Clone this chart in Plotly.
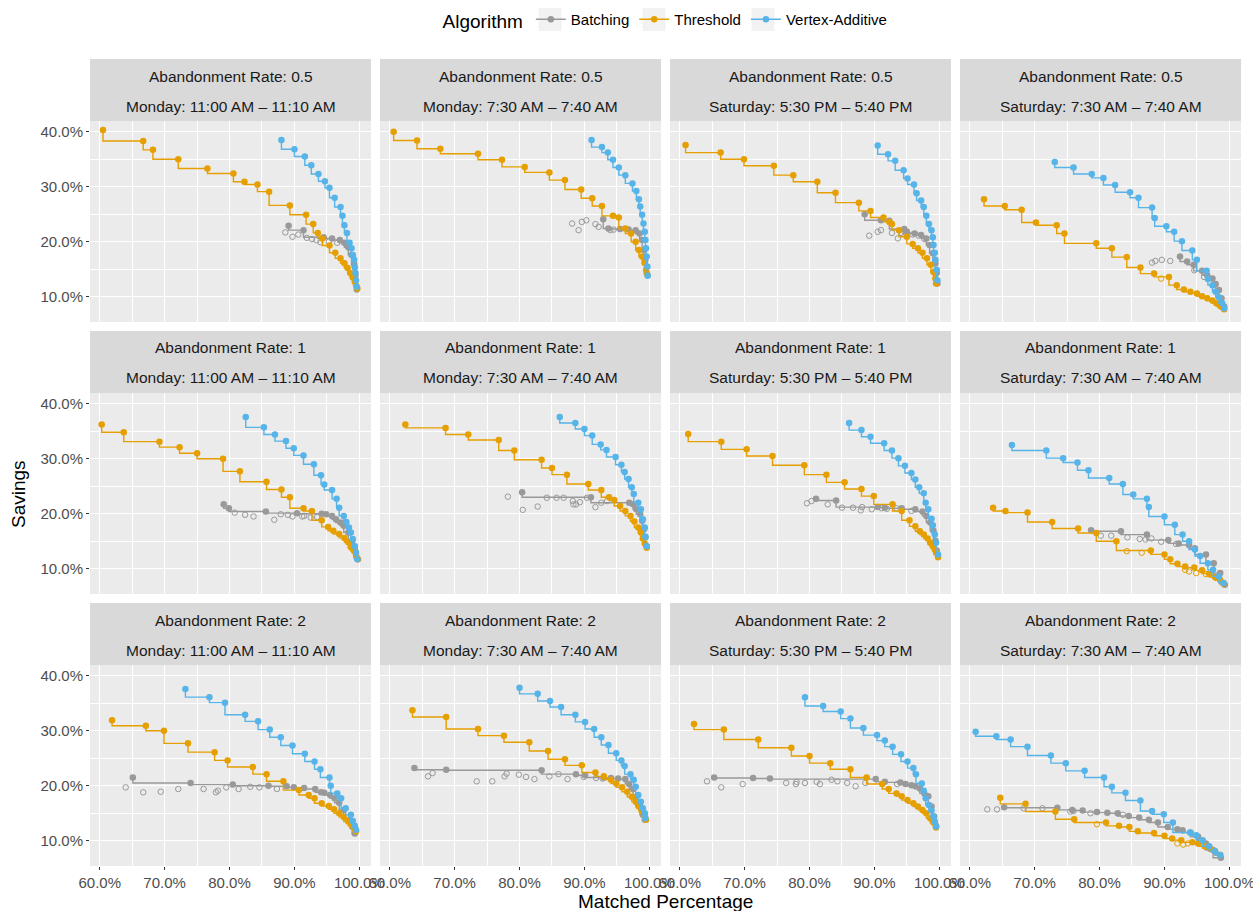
import plotly.graph_objects as go

# ---------------- DATA (Matched Percentage %, Savings %) ----------------
RATES = ["0.5", "1", "2"]
SLOTS = ["Monday: 11:00 AM – 11:10 AM", "Monday: 7:30 AM – 7:40 AM",
         "Saturday: 5:30 PM – 5:40 PM", "Saturday: 7:30 AM – 7:40 AM"]
ALGORITHMS = ["Batching", "Threshold", "Vertex-Additive"]
X_TICKS = [60, 70, 80, 90, 100]
X_TICK_LABELS = ["60.0%", "70.0%", "80.0%", "90.0%", "100.0%"]
Y_TICKS = [10, 20, 30, 40]
Y_TICK_LABELS = ["10.0%", "20.0%", "30.0%", "40.0%"]

# ---- Abandonment rate 0.5 ----
R05_MON11_THR = [(60.5,40.3),(66.7,38.3),(68.2,36.7),(72.1,35.0),(76.6,33.3),(80.6,32.4),(82.3,30.9),(84.3,30.4),(86.1,29.1),(89.3,26.6),(91.8,24.9),(92.9,23.2),(93.6,21.6),(94.3,20.6),(95.4,19.3),(96.3,18.0),(97.1,17.0),(97.7,16.1),(98.2,15.2),(98.6,14.3),(99.0,13.5),(99.3,12.7),(99.5,12.1),(99.7,11.5)]
R05_MON11_VA = [(88.0,38.5),(90.0,36.8),(91.6,35.5),(92.6,33.9),(93.7,32.3),(94.7,31.0),(95.4,29.8),(96.2,28.0),(97.1,26.3),(97.4,24.7),(97.7,23.0),(98.1,21.6),(98.5,19.8),(98.8,18.8),(99.0,17.6),(99.2,16.7),(99.3,15.3),(99.4,14.3),(99.5,13.0),(99.6,11.8)]
R05_MON11_BAT = [(89.1,22.9),(91.4,22.1),(94.5,20.8),(95.8,20.6),(97.0,20.3),(97.7,19.8),(98.3,19.0),(98.8,17.6),(99.2,15.9),(99.4,13.9),(99.6,11.3)]
R05_MON11_BAT_DOM = [(88.6,21.7),(89.7,20.9),(90.6,21.3),(91.9,20.7),(92.7,20.5),(93.4,20.3),(94.0,19.9),(95.3,20.0),(96.6,19.8)]

R05_MON730_THR = [(60.6,40.0),(64.2,38.4),(67.8,36.9),(73.6,36.0),(77.3,34.9),(80.8,33.6),(84.6,32.6),(87.0,31.2),(89.5,29.5),(91.2,27.9),(92.7,26.5),(94.4,24.7),(95.3,24.4),(96.3,22.4),(97.2,21.5),(97.9,20.0),(98.4,18.5),(98.9,17.3),(99.3,16.1),(99.5,14.9),(99.7,14.0)]
R05_MON730_VA = [(91.1,38.5),(92.7,37.2),(93.6,36.2),(94.4,34.9),(95.3,33.5),(96.3,32.1),(97.4,30.6),(98.0,29.2),(98.4,27.7),(98.6,26.4),(98.9,24.9),(99.1,23.3),(99.3,21.8),(99.4,20.3),(99.5,18.8),(99.6,17.3),(99.7,15.5),(99.75,13.8)]
R05_MON730_BAT = [(92.9,24.1),(93.7,22.4),(95.5,22.3),(96.8,22.2),(97.9,22.1),(98.5,21.5),(98.9,20.3),(99.2,18.5),(99.4,16.7),(99.6,14.3)]
R05_MON730_BAT_DOM = [(88.1,23.3),(89.1,22.1),(89.6,23.6),(90.3,23.9),(91.7,23.2),(92.2,22.7),(94.0,22.1),(94.5,22.2)]

R05_SAT530_THR = [(60.9,37.6),(66.3,36.2),(69.9,35.0),(74.5,33.8),(77.5,32.1),(81.2,30.9),(84.0,28.9),(87.6,27.1),(89.4,25.6),(91.4,24.4),(92.3,23.6),(92.7,23.2),(93.8,22.1),(95.0,20.9),(95.9,19.6),(96.7,18.8),(97.4,18.0),(98.1,17.0),(98.7,15.8),(99.1,14.5),(99.4,13.3),(99.5,12.4)]
R05_SAT530_VA = [(90.5,37.5),(92.1,35.9),(93.2,34.7),(94.5,33.0),(95.1,31.5),(96.1,30.4),(96.5,28.8),(97.2,27.5),(97.6,26.3),(98.0,24.7),(98.4,23.2),(98.8,22.1),(99.0,20.8),(99.1,19.4),(99.3,18.0),(99.4,16.7),(99.6,14.9),(99.7,13.0)]
R05_SAT530_BAT = [(88.5,25.0),(91.0,23.9),(92.3,23.8),(94.6,22.3),(95.0,21.8),(96.2,21.5),(97.2,21.2),(98.0,20.6),(98.5,19.4),(99.0,17.9),(99.4,16.1),(99.6,14.3),(99.7,12.4)]
R05_SAT530_BAT_DOM = [(89.2,21.1),(90.5,21.8),(91.0,22.1),(92.7,21.6),(93.6,20.6),(94.1,21.6),(94.7,21.7),(95.9,21.3),(96.8,21.1),(97.7,20.5)]

R05_SAT730_THR = [(62.2,27.7),(65.4,26.5),(68.0,25.8),(70.2,23.5),(73.4,23.0),(74.6,21.5),(79.5,19.7),(81.9,18.8),(84.2,17.2),(86.3,15.3),(88.4,14.2),(90.7,13.6),(91.9,12.1),(93.0,11.3),(94.0,10.9),(95.0,10.6),(95.8,10.1),(96.6,9.7),(97.4,9.3),(98.0,8.8),(98.6,8.3),(99.2,7.7)]
R05_SAT730_THR_DOM = [(89.5,13.3)]
R05_SAT730_VA = [(73.1,34.5),(76.0,33.5),(78.8,32.3),(80.6,31.6),(82.4,30.3),(84.7,29.0),(86.0,28.0),(88.1,26.2),(88.5,24.3),(90.3,22.8),(91.5,21.8),(92.7,20.1),(94.3,18.4),(95.0,16.7),(96.5,14.7),(96.7,13.2),(97.4,12.1),(97.9,10.9),(98.4,9.9),(98.9,8.8),(99.2,7.9)]
R05_SAT730_BAT = [(92.4,17.3),(93.5,16.4),(94.5,15.8),(95.8,14.7),(96.6,13.9),(97.4,13.3),(97.9,12.3),(98.4,11.2),(98.8,9.7),(99.2,8.2)]
R05_SAT730_BAT_DOM = [(88.1,16.2),(88.6,16.5),(89.6,16.7),(90.9,16.5),(94.6,14.8),(96.1,13.6)]

# ---- Abandonment rate 1 ----
R1_MON11_THR = [(60.3,36.2),(63.7,34.8),(69.2,33.1),(72.3,32.1),(75.0,31.0),(79.0,30.0),(81.6,27.7),(85.7,25.8),(88.0,24.4),(89.3,23.0),(91.4,21.0),(92.7,20.5),(94.2,18.8),(95.2,17.6),(96.0,16.9),(96.9,16.3),(97.7,15.6),(98.3,14.8),(98.7,13.9),(99.2,13.2),(99.5,12.4),(99.8,11.7)]
R1_MON11_VA = [(82.5,37.6),(85.3,35.7),(87.0,34.4),(88.7,33.2),(89.9,31.9),(91.4,30.6),(93.0,29.0),(94.1,27.0),(94.6,25.3),(95.8,24.3),(96.5,22.7),(96.9,21.1),(97.6,19.6),(98.0,18.5),(98.4,17.5),(98.7,16.6),(99.0,15.4),(99.3,14.1),(99.5,12.9),(99.7,11.7)]
R1_MON11_BAT = [(79.1,21.7),(79.9,21.0),(85.6,20.4),(90.4,20.1),(94.2,20.0),(94.9,19.9),(95.8,19.6),(96.4,19.0),(97.1,18.4),(97.6,17.8),(98.3,16.6),(98.9,15.0),(99.3,13.5),(99.6,12.0)]
R1_MON11_BAT_DOM = [(80.8,20.2),(82.4,19.8),(83.7,19.5),(86.9,18.9),(87.9,19.9),(89.0,19.8),(89.7,19.5),(91.2,19.5),(91.5,19.6),(92.5,19.3),(93.5,19.4)]

R1_MON730_THR = [(62.4,36.2),(68.6,35.6),(72.1,34.4),(76.8,33.4),(79.2,31.5),(83.4,29.8),(85.0,28.3),(87.3,27.1),(90.6,25.4),(92.6,24.3),(93.8,23.0),(94.6,22.5),(95.5,21.4),(96.3,20.5),(97.1,19.6),(97.7,18.6),(98.3,17.5),(98.7,16.6),(99.0,15.5),(99.3,14.6),(99.6,13.8)]
R1_MON730_VA = [(86.2,37.6),(88.6,36.5),(90.0,35.4),(91.2,34.2),(92.5,32.6),(93.4,31.6),(94.8,30.3),(95.7,28.9),(96.2,27.6),(96.8,26.3),(97.3,24.8),(97.6,23.6),(98.3,22.0),(98.7,20.8),(99.0,19.0),(99.3,17.5),(99.4,15.8),(99.6,14.1)]
R1_MON730_BAT = [(80.4,23.9),(91.0,23.0),(96.9,22.0),(97.5,21.7),(98.0,20.8),(98.6,19.9),(98.9,18.7),(99.2,17.2),(99.4,15.7),(99.6,14.1)]
R1_MON730_BAT_DOM = [(78.2,23.1),(80.5,20.7),(82.8,21.3),(84.2,22.9),(85.7,22.9),(86.8,22.9),(88.2,22.3),(88.3,21.7),(88.7,21.7),(89.3,22.1),(90.4,22.9),(91.7,21.2),(92.6,22.0),(93.5,22.3)]

R1_SAT530_THR = [(61.3,34.5),(66.4,33.1),(70.3,31.7),(74.3,30.5),(79.2,28.8),(82.6,27.1),(85.4,25.7),(88.0,24.5),(89.9,23.2),(92.8,21.7),(94.2,20.5),(95.4,18.8),(96.3,17.7),(97.0,16.8),(97.6,16.2),(98.2,15.5),(98.6,14.7),(99.0,14.1),(99.3,13.5),(99.5,12.9),(99.8,12.1)]
R1_SAT530_VA = [(86.1,36.5),(88.0,35.2),(89.4,34.0),(91.5,32.8),(92.7,31.5),(93.7,30.1),(94.7,28.7),(95.7,27.4),(96.3,26.2),(96.9,24.8),(97.6,23.7),(97.9,22.0),(98.3,20.8),(98.8,19.1),(99.0,17.9),(99.3,16.2),(99.5,14.7),(99.8,12.6)]
R1_SAT530_BAT = [(81.0,22.7),(84.1,22.4),(90.5,21.2),(91.6,21.1),(94.2,21.0),(96.3,20.8),(97.4,20.4),(98.0,19.6),(98.6,18.4),(99.1,16.9),(99.4,15.1),(99.6,13.3)]
R1_SAT530_BAT_DOM = [(79.6,21.9),(80.3,22.3),(82.8,21.7),(85.0,21.1),(86.7,21.1),(87.9,20.6),(88.1,21.2),(89.6,20.8),(91.1,21.0),(91.9,20.9),(93.4,21.0),(95.7,20.5)]

R1_SAT730_THR = [(63.6,21.1),(65.5,20.5),(68.9,20.2),(72.7,18.5),(76.7,17.3),(79.5,16.5),(82.6,15.0),(87.9,13.3),(90.0,12.6),(90.9,11.7),(92.0,10.9),(93.2,10.4),(94.6,10.2),(95.8,9.7),(96.9,9.1),(97.8,8.5),(98.6,7.9),(99.1,7.3)]
R1_SAT730_THR_DOM = [(84.2,13.2),(86.5,12.9),(93.2,9.8),(93.8,9.5),(94.9,9.2),(96.4,9.0)]
R1_SAT730_VA = [(66.5,32.5),(71.8,31.5),(74.4,30.1),(76.6,29.3),(78.3,27.9),(81.5,26.5),(83.6,25.4),(85.2,23.5),(87.3,22.7),(87.6,21.2),(90.0,19.5),(91.6,18.0),(92.8,16.2),(93.8,15.0),(94.7,13.5),(95.5,12.3),(96.7,11.0),(97.5,9.8),(98.4,8.6),(99.1,7.4)]
R1_SAT730_BAT = [(78.7,17.0),(83.3,16.8),(87.3,16.2),(90.6,15.2),(92.2,14.6),(93.8,14.3),(94.7,13.7),(96.4,12.6),(97.6,11.0),(98.6,9.2),(99.3,7.1)]
R1_SAT730_BAT_DOM = [(80.2,16.0),(81.8,16.0),(84.3,15.7),(86.2,15.4),(87.1,15.3),(88.0,15.5),(89.5,14.9),(91.8,14.5)]

# ---- Abandonment rate 2 ----
R2_MON11_THR = [(61.9,31.9),(67.1,30.9),(69.9,30.0),(73.6,27.7),(77.7,26.1),(79.7,24.6),(83.6,23.4),(85.7,22.1),(88.3,20.8),(90.7,19.2),(92.2,18.3),(93.1,17.7),(94.2,16.8),(95.3,16.3),(96.1,15.7),(96.9,15.0),(97.6,14.3),(98.3,13.5),(98.9,12.7),(99.3,12.1),(99.5,11.7)]
R2_MON11_VA = [(73.2,37.6),(76.9,36.1),(79.3,35.1),(82.4,32.9),(84.4,31.7),(86.2,30.2),(87.9,28.8),(89.7,27.3),(91.6,25.8),(93.1,24.4),(94.0,23.0),(95.4,21.5),(95.6,20.0),(96.6,18.6),(97.2,17.7),(97.9,15.9),(98.7,14.7),(99.0,13.6),(99.3,12.7),(99.5,12.0)]
R2_MON11_BAT = [(65.1,21.5),(74.0,20.5),(80.5,20.2),(86.0,20.0),(88.8,19.9),(89.9,19.7),(91.5,19.6),(93.2,19.4),(94.1,18.8),(94.6,18.7),(95.5,18.3),(96.2,17.7),(96.9,16.9),(97.6,15.6),(98.5,13.8),(98.9,12.6),(99.3,11.3)]
R2_MON11_BAT_DOM = [(64.0,19.7),(66.7,18.8),(69.4,18.9),(72.1,19.4),(76.0,19.4),(77.9,18.8),(78.2,19.1),(79.5,19.7),(81.4,19.4),(83.2,19.8),(84.6,19.7),(87.3,19.4)]

R2_MON730_THR = [(63.5,33.7),(68.7,32.5),(73.6,30.3),(77.6,29.1),(81.5,27.9),(84.4,26.3),(87.0,24.8),(89.6,23.7),(91.7,22.4),(93.0,21.7),(94.1,21.1),(94.9,20.4),(95.8,19.7),(96.6,18.9),(97.3,18.0),(97.9,17.1),(98.4,16.2),(98.9,15.3),(99.3,14.4),(99.5,13.8)]
R2_MON730_VA = [(80.0,37.8),(82.8,36.7),(84.7,35.4),(86.4,34.3),(88.6,32.9),(90.1,31.6),(91.5,30.3),(92.6,28.8),(93.7,27.4),(94.9,25.9),(95.7,24.6),(96.2,23.6),(97.1,22.1),(97.6,21.1),(97.9,19.8),(98.3,18.3),(98.7,17.1),(99.0,15.9),(99.3,15.0),(99.4,14.1)]
R2_MON730_BAT = [(63.8,23.2),(68.7,22.9),(83.4,22.8),(88.7,22.1),(90.1,21.9),(93.0,21.5),(94.1,21.4),(95.2,21.3),(96.3,21.2),(96.9,20.3),(97.5,19.4),(98.0,18.0),(98.6,16.2),(99.0,14.7),(99.3,13.8)]
R2_MON730_BAT_DOM = [(65.9,21.7),(66.6,22.3),(73.4,20.8),(75.8,20.8),(77.7,21.7),(78.0,22.2),(79.9,22.0),(81.0,21.6),(82.3,21.2),(84.6,21.7),(86.0,22.1),(87.4,21.2),(89.9,21.6),(91.8,21.4),(92.8,21.3)]

R2_SAT530_THR = [(62.2,31.2),(66.8,30.2),(72.1,28.4),(77.2,26.9),(80.0,25.4),(83.2,24.1),(86.3,23.0),(88.8,21.5),(91.2,20.3),(92.2,19.4),(93.4,18.6),(94.2,18.1),(95.1,17.4),(96.0,16.8),(96.7,16.2),(97.4,15.6),(98.0,15.0),(98.6,14.1),(99.1,13.3),(99.5,12.4)]
R2_SAT530_VA = [(79.3,36.1),(82.1,34.5),(84.8,33.5),(86.3,32.2),(88.3,30.5),(90.4,29.2),(91.6,28.2),(92.8,27.1),(94.1,25.7),(95.1,24.4),(96.0,23.2),(96.4,22.1),(97.3,20.4),(97.6,19.1),(97.9,17.7),(98.4,16.5),(98.8,15.5),(99.1,14.4),(99.3,13.5),(99.5,12.6)]
R2_SAT530_BAT = [(65.3,21.5),(71.3,21.4),(73.9,21.3),(90.2,21.2),(91.6,20.7),(94.0,20.6),(94.8,20.3),(95.7,20.1),(96.3,19.9),(97.0,19.5),(97.7,18.6),(98.3,18.1),(98.8,16.2),(99.2,14.4),(99.5,12.7)]
R2_SAT530_BAT_DOM = [(64.2,20.8),(66.4,19.7),(69.7,20.3),(76.4,20.5),(77.9,20.3),(78.0,20.7),(79.3,20.5),(81.1,20.7),(81.6,20.3),(83.4,21.1),(84.3,20.8),(85.8,20.5),(87.1,19.9),(88.6,20.5),(93.5,20.3)]

R2_SAT730_THR = [(64.7,17.8),(68.6,16.7),(73.2,15.3),(76.1,13.9),(81.0,13.3),(83.0,12.7),(84.6,12.5),(85.9,11.7),(88.4,11.4),(90.0,10.9),(91.2,10.4),(92.6,10.1),(94.3,9.7),(95.2,9.5),(96.2,9.0),(97.1,8.5),(97.8,8.1),(98.6,7.4)]
R2_SAT730_THR_DOM = [(79.6,13.0),(92.0,9.5),(92.9,9.3),(93.6,9.5)]
R2_SAT730_VA = [(60.9,29.8),(64.1,29.0),(66.3,28.4),(68.9,27.1),(72.5,25.5),(74.8,24.1),(77.7,22.7),(80.7,21.5),(81.9,19.8),(84.0,18.7),(86.3,17.3),(88.1,15.4),(89.9,14.8),(91.3,13.3),(94.0,11.5),(94.9,11.0),(95.9,10.1),(96.9,9.0),(97.8,8.1),(98.6,7.4)]
R2_SAT730_BAT = [(65.3,16.1),(73.5,16.0),(75.8,15.6),(77.4,15.5),(79.6,15.2),(81.2,15.1),(82.8,15.0),(84.5,14.5),(86.1,14.2),(87.6,13.8),(89.0,13.3),(90.5,12.5),(92.0,12.1),(92.8,11.9),(94.0,11.5),(95.2,10.7),(96.4,9.5),(97.5,8.3),(98.7,6.9)]
R2_SAT730_BAT_DOM = [(62.7,15.7),(64.2,15.7),(68.3,15.9),(71.2,15.9),(75.5,15.3),(76.0,15.4),(78.6,15.0),(83.6,14.7)]

# panel grid: rows = abandonment rate, columns = time slot
PANELS = [
    [(R05_MON11_BAT, R05_MON11_BAT_DOM, R05_MON11_THR, [], R05_MON11_VA),
     (R05_MON730_BAT, R05_MON730_BAT_DOM, R05_MON730_THR, [], R05_MON730_VA),
     (R05_SAT530_BAT, R05_SAT530_BAT_DOM, R05_SAT530_THR, [], R05_SAT530_VA),
     (R05_SAT730_BAT, R05_SAT730_BAT_DOM, R05_SAT730_THR, R05_SAT730_THR_DOM, R05_SAT730_VA)],
    [(R1_MON11_BAT, R1_MON11_BAT_DOM, R1_MON11_THR, [], R1_MON11_VA),
     (R1_MON730_BAT, R1_MON730_BAT_DOM, R1_MON730_THR, [], R1_MON730_VA),
     (R1_SAT530_BAT, R1_SAT530_BAT_DOM, R1_SAT530_THR, [], R1_SAT530_VA),
     (R1_SAT730_BAT, R1_SAT730_BAT_DOM, R1_SAT730_THR, R1_SAT730_THR_DOM, R1_SAT730_VA)],
    [(R2_MON11_BAT, R2_MON11_BAT_DOM, R2_MON11_THR, [], R2_MON11_VA),
     (R2_MON730_BAT, R2_MON730_BAT_DOM, R2_MON730_THR, [], R2_MON730_VA),
     (R2_SAT530_BAT, R2_SAT530_BAT_DOM, R2_SAT530_THR, [], R2_SAT530_VA),
     (R2_SAT730_BAT, R2_SAT730_BAT_DOM, R2_SAT730_THR, R2_SAT730_THR_DOM, R2_SAT730_VA)],
]

# ---------------- STYLE / LAYOUT ----------------
W, H = 1253, 911
COLORS = {"Batching": "#999999", "Threshold": "#E69F00", "Vertex-Additive": "#56B4E9"}
FONT = "Liberation Sans, Arial, Helvetica, sans-serif"
COLS_PX = [(90, 371), (380, 661), (670, 951), (960, 1241)]
ROWS_PX = [(121, 322), (393, 594), (665, 866)]
STRIP_PX = [(59, 121), (331, 393), (603, 665)]
LEGEND_KEY_CX = [550, 654, 763]
XR = [58.5, 101.8]
YR = [5.4, 41.95]

fig = go.Figure()
shapes, annotations = [], []


def xs(pts):
    return [p[0] for p in pts]


def ys(pts):
    return [p[1] for p in pts]


for r in range(3):
    for c in range(4):
        n = r * 4 + c + 1
        xa = "x" if n == 1 else f"x{n}"
        ya = "y" if n == 1 else f"y{n}"
        bat, bat_dom, thr, thr_dom, va = PANELS[r][c]
        first = (n == 1)
        # dominated (hollow) points
        fig.add_trace(go.Scatter(x=xs(bat_dom), y=ys(bat_dom), mode="markers", xaxis=xa, yaxis=ya,
                                 marker=dict(symbol="circle-open", size=5.5, color=COLORS["Batching"],
                                             line=dict(width=1, color=COLORS["Batching"])),
                                 showlegend=False, hoverinfo="skip"))
        if thr_dom:
            fig.add_trace(go.Scatter(x=xs(thr_dom), y=ys(thr_dom), mode="markers", xaxis=xa, yaxis=ya,
                                     marker=dict(symbol="circle-open", size=5.5, color=COLORS["Threshold"],
                                                 line=dict(width=1, color=COLORS["Threshold"])),
                                     showlegend=False, hoverinfo="skip"))
        for name, pts in (("Batching", bat), ("Threshold", thr), ("Vertex-Additive", va)):
            fig.add_trace(go.Scatter(x=xs(pts), y=ys(pts), mode="lines+markers", name=name,
                                     xaxis=xa, yaxis=ya, legendgroup=name, showlegend=first,
                                     line=dict(color=COLORS[name], width=1.4, shape="vh"),
                                     marker=dict(size=6.5, color=COLORS[name])))

        xl, xr = COLS_PX[c]
        yt, yb = ROWS_PX[r]
        bottom = (r == 2)
        left = (c == 0)
        fig.layout[("xaxis" if n == 1 else f"xaxis{n}")] = dict(
            domain=[xl / W, xr / W], anchor=ya, range=XR, automargin=False,
            ticklabeloverflow="allow",
            tickmode="array", tickvals=X_TICKS, ticktext=X_TICK_LABELS, showticklabels=bottom,
            ticks="outside" if bottom else "", ticklen=3, tickwidth=1, tickcolor="#333333",
            tickfont=dict(size=15, color="#4D4D4D", family=FONT),
            showgrid=True, gridcolor="white", gridwidth=1.1, zeroline=False, showline=False,
            minor=dict(dtick=5, tick0=0, showgrid=True, gridcolor="white", gridwidth=0.5),
            fixedrange=True)
        fig.layout[("yaxis" if n == 1 else f"yaxis{n}")] = dict(
            domain=[1 - yb / H, 1 - yt / H], anchor=xa, range=YR, automargin=False,
            ticklabeloverflow="allow",
            tickmode="array", tickvals=Y_TICKS, ticktext=Y_TICK_LABELS, showticklabels=left,
            ticks="outside" if left else "", ticklen=3, tickwidth=1, tickcolor="#333333",
            tickfont=dict(size=15, color="#4D4D4D", family=FONT),
            showgrid=True, gridcolor="white", gridwidth=1.1, zeroline=False, showline=False,
            minor=dict(dtick=5, tick0=0, showgrid=True, gridcolor="white", gridwidth=0.5),
            fixedrange=True)
        # panel background
        shapes.append(dict(type="rect", xref="paper", yref="paper", layer="below",
                           x0=xl / W, x1=xr / W, y0=1 - yb / H, y1=1 - yt / H,
                           fillcolor="#EBEBEB", line=dict(width=0)))
        # strip
        st, sb = STRIP_PX[r]
        shapes.append(dict(type="rect", xref="paper", yref="paper", layer="below",
                           x0=xl / W, x1=xr / W, y0=1 - sb / H, y1=1 - st / H,
                           fillcolor="#D9D9D9", line=dict(width=0)))
        xc = (xl + xr) / 2 / W
        annotations.append(dict(text=f"Abandonment Rate: {RATES[r]}", x=xc, y=1 - (st + 17) / H,
                                xref="paper", yref="paper", showarrow=False, xanchor="center",
                                yanchor="middle", font=dict(size=15.5, color="#1A1A1A", family=FONT)))
        annotations.append(dict(text=SLOTS[c], x=xc, y=1 - (st + 47) / H,
                                xref="paper", yref="paper", showarrow=False, xanchor="center",
                                yanchor="middle", font=dict(size=15.5, color="#1A1A1A", family=FONT)))

# legend key backgrounds (ggplot grey95 squares)
for cx in LEGEND_KEY_CX:
    shapes.append(dict(type="rect", xref="paper", yref="paper", layer="below",
                       x0=(cx - 11.5) / W, x1=(cx + 11.5) / W, y0=1 - 31 / H, y1=1 - 8 / H,
                       fillcolor="#F2F2F2", line=dict(width=0)))

annotations.append(dict(text="Matched Percentage", x=(90 + 1241) / 2 / W, y=1 - 901 / H,
                        xref="paper", yref="paper", showarrow=False, xanchor="center", yanchor="middle",
                        font=dict(size=19, color="black", family=FONT)))
annotations.append(dict(text="Savings", x=18 / W, y=1 - 494 / H, textangle=-90,
                        xref="paper", yref="paper", showarrow=False, xanchor="center", yanchor="middle",
                        font=dict(size=19, color="black", family=FONT)))

fig.update_layout(
    width=W, height=H, margin=dict(l=0, r=0, t=0, b=0, autoexpand=False),
    paper_bgcolor="white", plot_bgcolor="rgba(0,0,0,0)",
    font=dict(family=FONT, color="black"),
    shapes=shapes, annotations=annotations,
    showlegend=True,
    legend=dict(orientation="h", x=0.532, xanchor="center", y=1 - 3 / H, yanchor="top",
                title=dict(text="Algorithm", side="left", font=dict(size=19, family=FONT)),
                font=dict(size=15, family=FONT, color="black"), bgcolor="rgba(0,0,0,0)",
                itemwidth=30, tracegroupgap=0),
)

fig.write_html("out.html")
